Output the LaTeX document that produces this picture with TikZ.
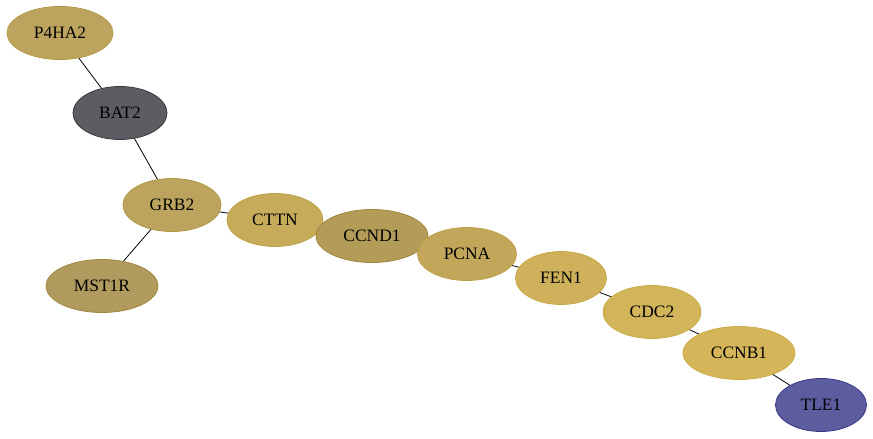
\documentclass[tikz,border=0pt]{standalone}
\usepackage{fontspec}
\setmainfont{Liberation Serif}
\usetikzlibrary{shapes.geometric, backgrounds}
\begin{document}
\begin{tikzpicture}[x = 1bp, y = - 1bp,
        gene/.style = {ellipse, draw, line width = 0.8pt, inner sep = 0pt,
            minimum height = 53bp, font = \fontsize{17.5}{20}\selectfont},
        link/.style = {line width = 0.8pt}]
        \useasboundingbox (0, 0) rectangle (873, 439);

        \definecolor{tanfill}{HTML}{BDA45E}
        \definecolor{tanline}{HTML}{B09640}

        \node[gene, minimum width = 106bp, fill = tanfill, draw = tanline] (p4ha2) at (60, 33) {P4HA2};
        \node[gene, minimum width = 94bp, fill = {rgb,255:red,94;green,92;blue,99}, draw = {rgb,255:red,60;green,58;blue,64}] (bat2) at (120, 113) {BAT2};
        \node[gene, minimum width = 98bp, fill = tanfill, draw = tanline] (grb2) at (172, 205) {GRB2};
        \node[gene, minimum width = 112bp, fill = {rgb,255:red,176;green,154;blue,94}, draw = {rgb,255:red,160;green,136;blue,60}] (mst1r) at (102, 286) {MST1R};
        \node[gene, minimum width = 96bp, fill = {rgb,255:red,198;green,172;blue,90}, draw = {rgb,255:red,190;green,160;blue,70}] (cttn) at (275, 220) {CTTN};
        \node[gene, minimum width = 112bp, fill = {rgb,255:red,178;green,156;blue,88}, draw = {rgb,255:red,160;green,136;blue,60}] (ccnd1) at (372, 236) {CCND1};
        \node[gene, minimum width = 99bp, fill = {rgb,255:red,194;green,166;blue,90}, draw = {rgb,255:red,190;green,160;blue,70}] (pcna) at (467, 254) {PCNA};
        \node[gene, minimum width = 91bp, fill = {rgb,255:red,206;green,177;blue,90}, draw = {rgb,255:red,200;green,168;blue,70}] (fen1) at (561, 278) {FEN1};
        \node[gene, minimum width = 98bp, fill = {rgb,255:red,210;green,180;blue,90}, draw = {rgb,255:red,204;green,170;blue,70}] (cdc2) at (652, 312) {CDC2};
        \node[gene, minimum width = 112bp, fill = {rgb,255:red,213;green,181;blue,90}, draw = {rgb,255:red,206;green,172;blue,72}] (ccnb1) at (739, 353) {CCNB1};
        \node[gene, minimum width = 91bp, fill = {rgb,255:red,92;green,92;blue,158}, draw = {rgb,255:red,56;green,56;blue,136}] (tle1) at (821, 405) {TLE1};

        \begin{scope}[on background layer]
            \foreach \a/\b in {p4ha2/bat2, bat2/grb2, grb2/mst1r, grb2/cttn, cttn/ccnd1,
                    ccnd1/pcna, pcna/fen1, fen1/cdc2, cdc2/ccnb1, ccnb1/tle1}
                \draw[link] (\a.center) -- (\b.center);
        \end{scope}
    \end{tikzpicture}
\end{document}
